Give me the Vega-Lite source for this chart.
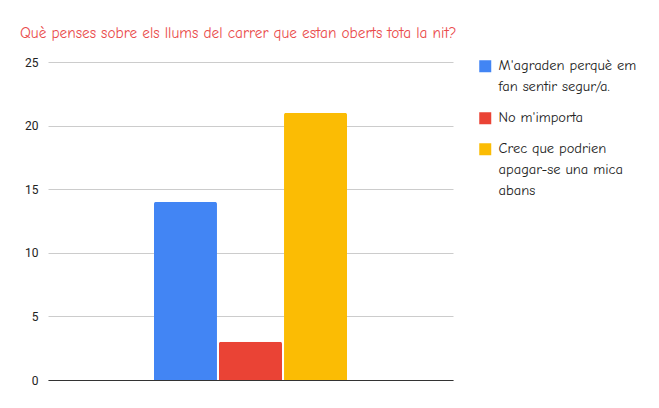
{
  "$schema": "https://vega.github.io/schema/vega-lite/v6.json",
  "width": 405,
  "height": 318,
  "autosize": "none",
  "padding": {"left": 48, "top": 62, "right": 206, "bottom": 28},
  "background": "white",
  "title": {
    "text": "Què penses sobre els llums del carrer que estan oberts tota la nit?",
    "anchor": "start",
    "frame": "group",
    "dx": -28,
    "offset": 15,
    "font": "Comic Sans MS, Comic Neue, Open Sans",
    "fontSize": 15.3,
    "fontWeight": "normal",
    "color": "#ea4b4b"
  },
  "data": {
    "values": [
      {"grup": "", "resposta": "M'agraden perquè em fan sentir segur/a.", "ordre": 1, "vots": 14},
      {"grup": "", "resposta": "No m'importa", "ordre": 2, "vots": 3},
      {"grup": "", "resposta": "Crec que podrien apagar-se una mica abans", "ordre": 3, "vots": 21}
    ]
  },
  "mark": {"type": "bar", "cornerRadiusTopLeft": 2, "cornerRadiusTopRight": 2},
  "encoding": {
    "x": {
      "field": "grup",
      "type": "nominal",
      "scale": {"paddingInner": 0, "paddingOuter": 0.549},
      "axis": {"title": null, "labels": false, "ticks": false, "domainColor": "#333333", "domainWidth": 1}
    },
    "xOffset": {
      "field": "resposta",
      "type": "nominal",
      "sort": {"field": "ordre"},
      "scale": {"paddingInner": 0.031, "paddingOuter": 0}
    },
    "y": {
      "field": "vots",
      "type": "quantitative",
      "scale": {"domain": [0, 25]},
      "axis": {
        "title": null,
        "values": [0, 5, 10, 15, 20, 25],
        "domain": false,
        "ticks": false,
        "gridColor": "#cccccc",
        "labelFont": "Roboto",
        "labelFontSize": 12,
        "labelColor": "#222222",
        "labelPadding": 10
      }
    },
    "color": {
      "field": "resposta",
      "type": "nominal",
      "sort": {"field": "ordre"},
      "scale": {
        "domain": ["M'agraden perquè em fan sentir segur/a.", "No m'importa", "Crec que podrien apagar-se una mica abans"],
        "range": ["#4285f4", "#ea4335", "#fbbc04"]
      },
      "legend": {
        "title": null,
        "orient": "none",
        "legendX": 430,
        "legendY": -3,
        "padding": 0,
        "symbolType": "square",
        "symbolSize": 144,
        "symbolStrokeWidth": 0,
        "symbolOpacity": 1,
        "labelFont": "Comic Sans MS, Comic Neue, Open Sans",
        "labelFontSize": 14.5,
        "labelColor": "#222222",
        "labelOffset": 6,
        "labelLimit": 200,
        "rowPadding": 16,
        "labelExpr": "datum.label == 'No m\\'importa' ? datum.label : (indexof(datum.label, 'M\\'agraden') == 0 ? ['M\\'agraden perquè em', 'fan sentir segur/a.'] : ['Crec que podrien', 'apagar-se una mica', 'abans'])",
        "encode": {"labels": {"update": {"lineHeight": {"value": 21}}}}
      }
    }
  },
  "config": {"view": {"stroke": null}}
}
